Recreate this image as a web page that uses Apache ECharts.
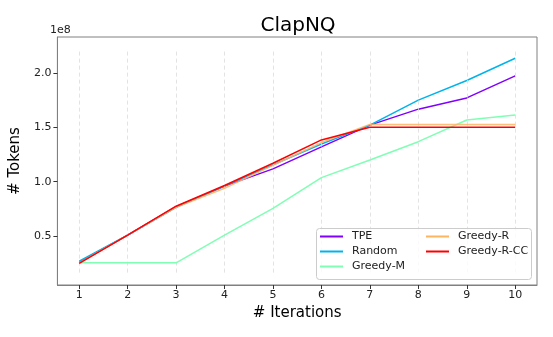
<!DOCTYPE html>
<html>
<head>
<meta charset="utf-8">
<script src="https://cdn.jsdelivr.net/npm/echarts@6/dist/echarts.min.js"></script>
<style>
  html, body { margin: 0; padding: 0; background: #fff; }
  #chart { width: 553px; height: 337px; }
</style>
</head>
<body>
<div id="chart"></div>
<script>
// x: iterations, y: tokens in units of 1e8
const iterations = [1, 2, 3, 4, 5, 6, 7, 8, 9, 10];
const tpe       = [0.26, 0.51, 0.77, 0.96, 1.118, 1.32, 1.52, 1.667, 1.77, 1.973];
const random    = [0.27, 0.51, 0.765, 0.96, 1.155, 1.347, 1.52, 1.75, 1.93, 2.135];
const greedyM   = [0.255, 0.255, 0.255, 0.51, 0.755, 1.038, 1.2, 1.368, 1.567, 1.613];
const greedyR   = [0.255, 0.51, 0.765, 0.94, 1.15, 1.36, 1.527, 1.527, 1.527, 1.527];
const greedyRCC = [0.25, 0.51, 0.775, 0.965, 1.17, 1.384, 1.50, 1.50, 1.50, 1.50];
const yTicks = [0.5, 1.0, 1.5, 2.0];

const seriesNames = ["TPE", "Random", "Greedy-M", "Greedy-R", "Greedy-R-CC"];
const seriesData = [tpe, random, greedyM, greedyR, greedyRCC];
const colors = ["#8000ff", "#00b4eb", "#80ffb4", "#ffb462", "#ff0000"];

// axis ranges
const xMin = 0.55, xMax = 10.45;
const yMin = 0.051, yMax = 2.33;
// dashed vertical guides stop 5% short of the frame
const yLo = yMin + 0.05 * (yMax - yMin);
const yHi = yMax - 0.05 * (yMax - yMin);

const font = "DejaVu Sans";
const lineIcon = "path://M0,0 L23,0 L23,2 L0,2 Z";
const myChart = echarts.init(document.getElementById("chart"));

const series = seriesNames.map((name, i) => ({
  name: name,
  type: "line",
  data: iterations.map((x, j) => [x, seriesData[i][j]]),
  symbol: "none",
  lineStyle: { color: colors[i], width: 1.5, opacity: name === "Greedy-R" ? 0.85 : 1 },
  itemStyle: { color: colors[i] },
  z: 3 + i,
}));

// guide lines
series.unshift({
  type: "line",
  data: [],
  z: 1,
  silent: true,
  markLine: {
    silent: true,
    symbol: "none",
    label: { show: false },
    lineStyle: { color: "#dcdcdc", type: [4, 3], width: 0.8 },
    data: iterations.map((x) => [{ coord: [x, yLo] }, { coord: [x, yHi] }]),
  },
});

const legendBase = {
  orient: "vertical",
  top: 231,
  z: 20,
  padding: 0,
  icon: lineIcon,
  itemWidth: 23,
  itemHeight: 12,
  itemGap: 4,
  textStyle: { fontFamily: font, fontSize: 11, color: "#222", padding: [0, 0, 0, 4] },
};

const options = {
  animation: false,
  backgroundColor: "#fff",
  textStyle: { fontFamily: font },
  title: {
    text: "ClapNQ",
    left: 293,
    top: 11,
    textAlign: "center",
    textStyle: { fontFamily: font, fontSize: 20, fontWeight: "normal", color: "#000" },
  },
  grid: {
    left: 50,
    top: 37,
    right: 16,
    bottom: 52,
    show: true,
    borderColor: "#808080",
    borderWidth: 1,
    backgroundColor: "transparent",
  },
  xAxis: {
    type: "value",
    min: xMin,
    max: xMax,
    name: "# Iterations",
    nameLocation: "middle",
    nameGap: 21,
    nameTextStyle: { fontFamily: font, fontSize: 15, color: "#000" },
    axisLine: { show: true, onZero: false, lineStyle: { color: "#808080" } },
    axisTick: { show: true, inside: false, length: 4, customValues: iterations, lineStyle: { color: "#333" } },
    axisLabel: { customValues: iterations, fontFamily: font, fontSize: 11, color: "#222", margin: 5 },
    splitLine: { show: false },
  },
  yAxis: {
    type: "value",
    min: yMin,
    max: yMax,
    name: "# Tokens",
    nameLocation: "middle",
    nameGap: 24,
    nameTextStyle: { fontFamily: font, fontSize: 15, color: "#000" },
    axisLine: { show: true, onZero: false, lineStyle: { color: "#808080" } },
    axisTick: { show: true, inside: false, length: 4, customValues: yTicks, lineStyle: { color: "#333" } },
    axisLabel: {
      customValues: yTicks,
      fontFamily: font,
      fontSize: 11,
      color: "#222",
      margin: 6,
      formatter: (v) => v.toFixed(1),
    },
    splitLine: { show: false },
  },
  legend: [
    Object.assign({}, legendBase, { data: seriesNames.slice(0, 3), left: 320 }),
    Object.assign({}, legendBase, { data: seriesNames.slice(3), left: 426 }),
  ],
  graphic: [
    {
      type: "rect",
      left: 316,
      top: 228,
      z: 10,
      shape: { width: 215, height: 51, r: 3 },
      style: { fill: "rgba(255,255,255,0.8)", stroke: "#cccccc", lineWidth: 1 },
      silent: true,
    },
    {
      type: "text",
      left: 50,
      top: 25,
      style: { text: "1e8", fontFamily: font, fontSize: 11, fill: "#222" },
    },
  ],
  series: series,
};

myChart.setOption(options);
</script>
</body>
</html>
